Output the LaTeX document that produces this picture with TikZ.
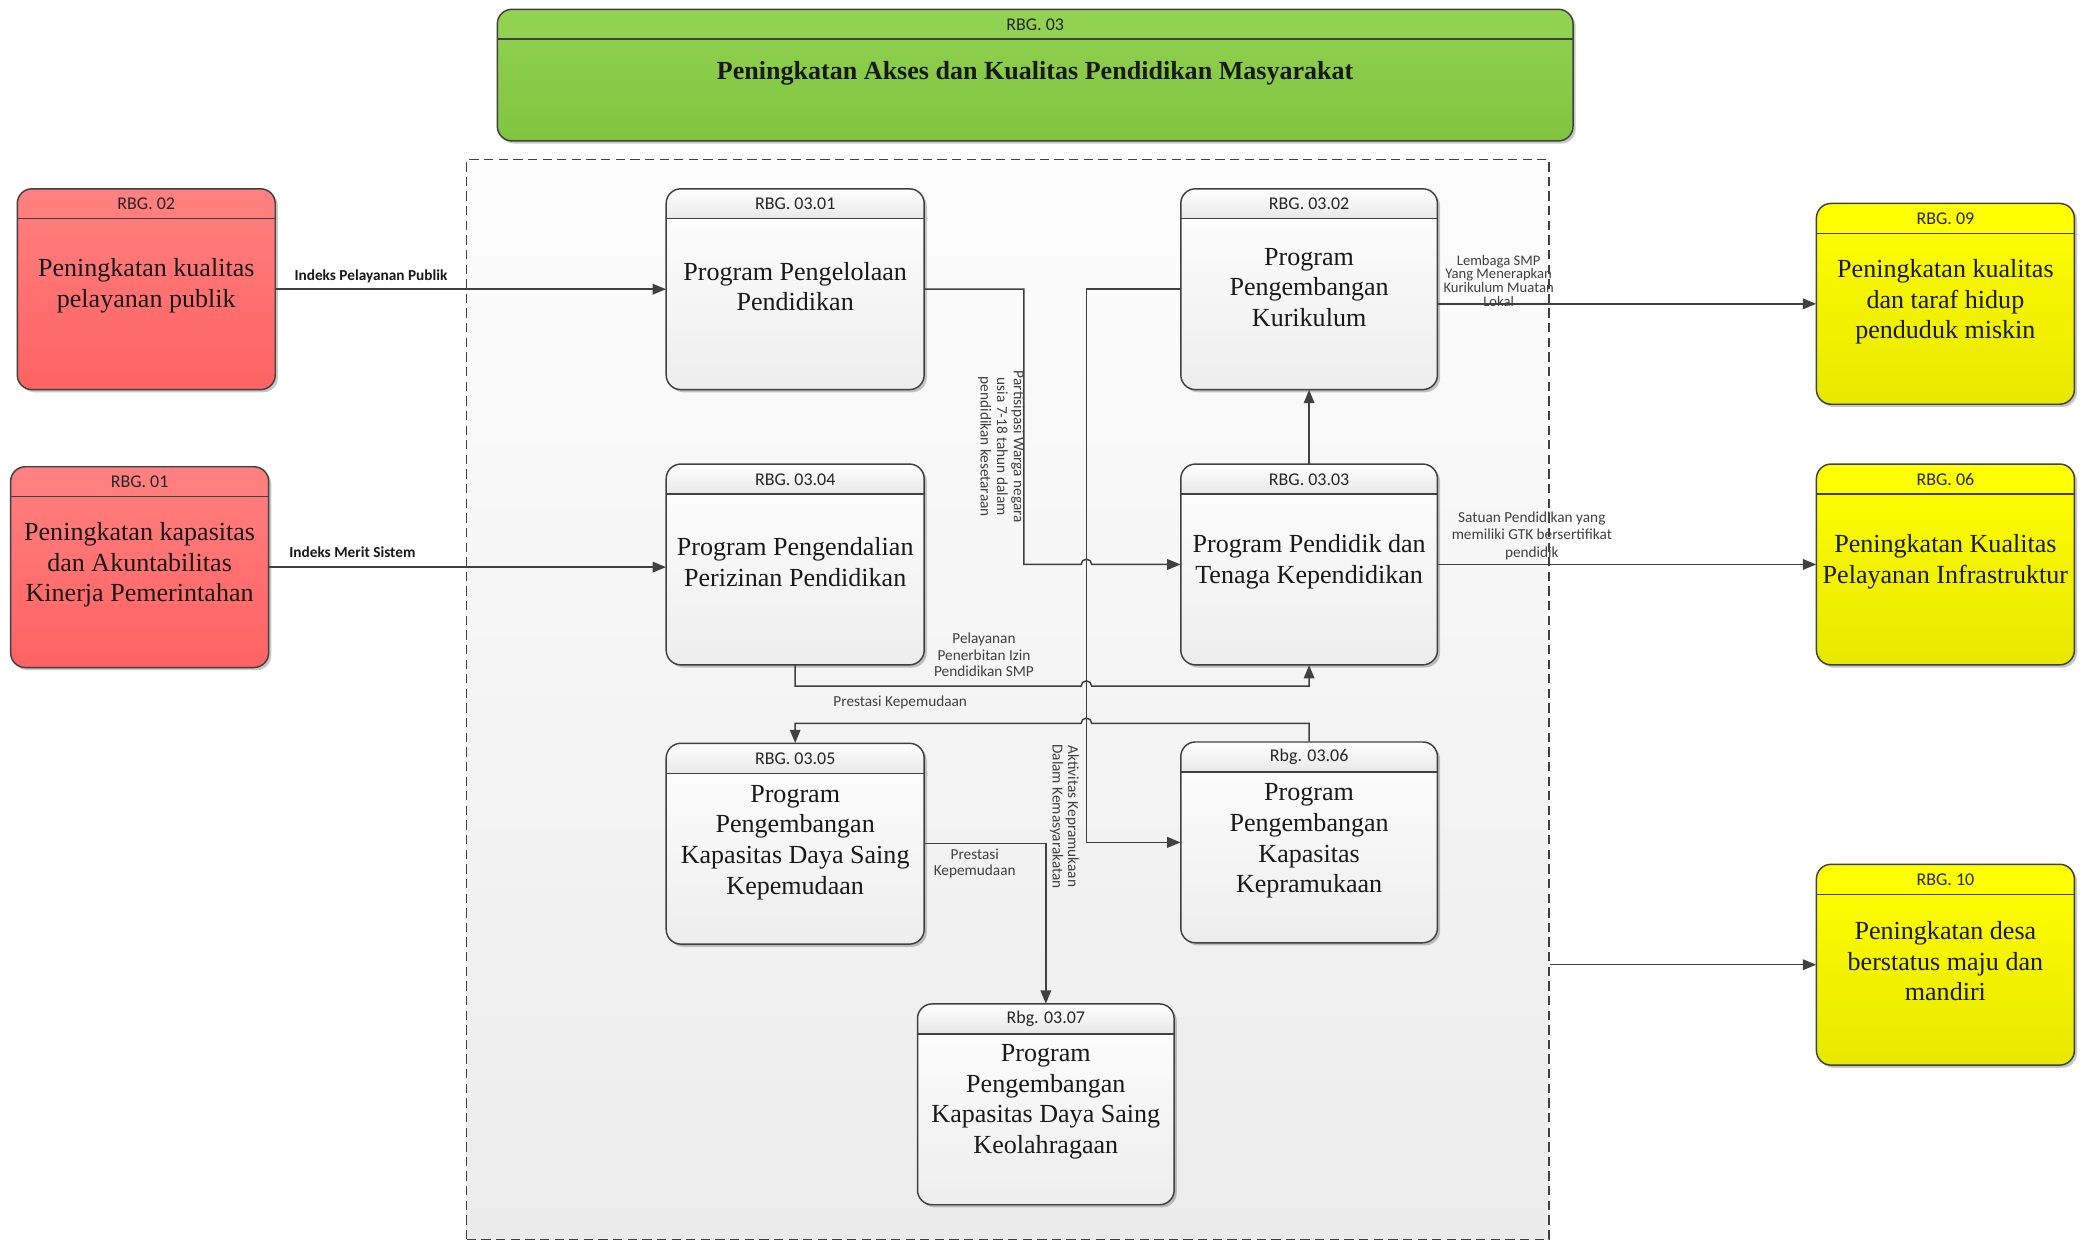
\documentclass[tikz,border=0pt]{standalone}
\usepackage{fontspec}
\setmainfont{Liberation Serif}
\newfontfamily\labfont{Carlito}
\usetikzlibrary{arrows.meta,shadows,fit}
\definecolor{linec}{RGB}{64,64,64}
\definecolor{redtop}{RGB}{255,128,128}
\definecolor{redbot}{RGB}{255,98,98}
\definecolor{yeltop}{RGB}{255,255,0}
\definecolor{yelbot}{RGB}{232,232,0}
\definecolor{grntop}{RGB}{146,210,82}
\definecolor{grnbot}{RGB}{128,196,62}
\definecolor{grptop}{RGB}{253,253,253}
\definecolor{grpbot}{RGB}{236,236,236}
\tikzset{
  border/.style={draw=linec, line width=1.1pt},
  conn/.style={draw=linec, line width=1.1pt},
  arr/.style={-{Triangle[length=10pt,width=8pt]}},
  hdr/.style={font=\labfont\fontsize{13.5}{15}\selectfont, text=black!85, inner sep=0pt},
  bodytxt/.style={font=\fontsize{19.6}{23}\selectfont, align=center, inner sep=0pt, text=black!90},
  lab/.style={font=\labfont\fontsize{11.5}{12.5}\selectfont, text=black!75, align=center, inner sep=0pt},
  boldlab/.style={font=\labfont\bfseries\fontsize{11.5}{12.5}\selectfont, text=black!90, inner sep=0pt},
  red body/.style={top color=redtop, bottom color=redbot},
  red head/.style={top color=redtop, bottom color=redtop!95!redbot},
  yel body/.style={top color=yeltop, bottom color=yelbot},
  yel head/.style={top color=yeltop, bottom color=yeltop},
  green body/.style={top color=grntop, bottom color=grnbot},
  green head/.style={top color=grntop, bottom color=grntop},
  prog body/.style={top color=white, bottom color=black!7},
  prog head/.style={top color=white, bottom color=black!9},
  shad/.style={drop shadow={shadow xshift=2pt,shadow yshift=-2pt,fill=black,opacity=0.22}},
}
\newcommand{\mybox}[9]{%
  \node[fit={(#2,-#3) (#4,-#5)}, inner sep=0pt, rounded corners=11pt, #6 body, shad] (#1) {};
  \begin{scope}
    \clip[rounded corners=11pt] (#2,-#3) rectangle (#4,-#5);
    \shade[#6 head] (#2,-#3) rectangle (#4,-#3-22.5);
  \end{scope}
  \draw[border, rounded corners=11pt] (#2,-#3) rectangle (#4,-#5);
  \draw[border] (#2,-#3-22.5) -- (#4,-#3-22.5);
  \node[hdr] (#1h) at ({(#2+#4)/2},-#3-11.5) {#7};
  \node[bodytxt] (#1t) at ({(#2+#4)/2},-#9) {#8};
}
\begin{document}
\begin{tikzpicture}[x=1pt,y=1pt]
\useasboundingbox (0,0) rectangle (1568,-933);
\fill[white] (0,0) rectangle (1568,-933);

% group container
\node[fit={(351,-120) (1165,-932)}, inner sep=0pt, draw=linec, line width=1pt, dash pattern=on 7pt off 4pt, top color=grptop, bottom color=grpbot] (grp) {};

\mybox{n03}{374}{7}{1183}{106}{green}{RBG. 03}{\bfseries Peningkatan Akses dan Kualitas Pendidikan Masyarakat}{55}
\mybox{n02}{13}{142}{207}{293}{red}{RBG. 02}{Peningkatan kualitas\\pelayanan publik}{215}
\mybox{n01}{8}{351}{202}{502}{red}{RBG. 01}{Peningkatan kapasitas\\dan Akuntabilitas\\Kinerja Pemerintahan}{425}
\mybox{n0301}{501}{142}{695}{293}{prog}{RBG. 03.01}{Program Pengelolaan\\Pendidikan}{215.5}
\mybox{n0302}{888}{142}{1081}{293}{prog}{RBG. 03.02}{Program\\Pengembangan\\Kurikulum}{216}
\mybox{n0304}{501}{349}{695}{500}{prog}{RBG. 03.04}{Program Pengendalian\\Perizinan Pendidikan}{422.5}
\mybox{n0303}{888}{349}{1081}{500}{prog}{RBG. 03.03}{Program Pendidik dan\\Tenaga Kependidikan}{422.5}
\mybox{n0305}{501}{559}{695}{710}{prog}{RBG. 03.05}{Program\\Pengembangan\\Kapasitas Daya Saing\\Kepemudaan}{633.5}
\mybox{n0306}{888}{558}{1081}{709}{prog}{Rbg. 03.06}{Program\\Pengembangan\\Kapasitas\\Kepramukaan}{632.5}
\mybox{n0307}{690}{755}{883}{906}{prog}{Rbg. 03.07}{Program\\Pengembangan\\Kapasitas Daya Saing\\Keolahragaan}{828.5}
\mybox{n09}{1366}{153}{1560}{304}{yel}{RBG. 09}{Peningkatan kualitas\\dan taraf hidup\\penduduk miskin}{227}
\mybox{n06}{1366}{349}{1560}{500}{yel}{RBG. 06}{Peningkatan Kualitas\\Pelayanan Infrastruktur}{422.5}
\mybox{n10}{1366}{650}{1560}{801}{yel}{RBG. 10}{Peningkatan desa\\berstatus maju dan\\mandiri}{723}

% connectors
\draw[conn,arr] (n02.east) -- (n0301.west);
\draw[conn,arr] (n01.east) -- (n01.east -| n0304.west);
\draw[conn,arr] (n0301.east) -- (770,-217.5) -- (770,-424.5) -- (813,-424.5) arc[start angle=180,end angle=0,radius=4] -- (n0303.west);
\draw[conn,arr] (n0302.west) -- (817,-217.5) -- (817,-633.5) -- (n0306.west);
\draw[conn,arr] (n0303.north) -- (n0302.south);
\draw[conn,arr] (n0304.south) -- (598,-516) -- (813,-516) arc[start angle=180,end angle=0,radius=4] -- (984.5,-516) -- (n0303.south);
\draw[conn,arr] (n0306.north) -- (984.5,-544) -- (821,-544) arc[start angle=0,end angle=180,radius=4] -- (598,-544) -- (n0305.north);
\draw[conn,arr] (n0305.east) -- (786.5,-634.5) -- (n0307.north);
\draw[conn,arr] (n0302.east |- n09.west) -- (n09.west);
\draw[conn,arr] (n0303.east) -- (n06.west);
\draw[conn,arr] (grp.east |- n10.west) -- (n10.west);

% labels
\node[boldlab] (l1) at (279,-208) {Indeks Pelayanan Publik};
\node[boldlab] (l2) at (265,-415) {Indeks Merit Sistem};
\node[lab, rotate=-90] (l3) at (753,-336) {Partisipasi Warga negara\\usia 7-18 tahun dalam\\pendidikan kesetaraan};
\node[lab, rotate=-90, font=\labfont\fontsize{11.5}{11.5}\selectfont] (l4) at (800.5,-614) {Aktivitas Kepramukaan\\Dalam Kemasyarakatan};
\node[lab] (l6) at (740,-492.5) {Pelayanan\\Penerbitan Izin\\Pendidikan SMP};
\node[lab] (l7) at (677,-528) {Prestasi Kepemudaan};
\node[lab, font=\labfont\fontsize{11.5}{12}\selectfont] (l8) at (733,-649) {Prestasi\\Kepemudaan};
\node[lab, font=\labfont\fontsize{11}{10.3}\selectfont] (l9) at (1127,-211) {Lembaga SMP\\Yang Menerapkan\\Kurikulum Muatan\\Lokal};
\node[lab, font=\labfont\fontsize{11.5}{13}\selectfont] (l10) at (1152,-403) {Satuan Pendidikan yang\\memiliki GTK bersertifikat\\pendidik};
\end{tikzpicture}
\end{document}
